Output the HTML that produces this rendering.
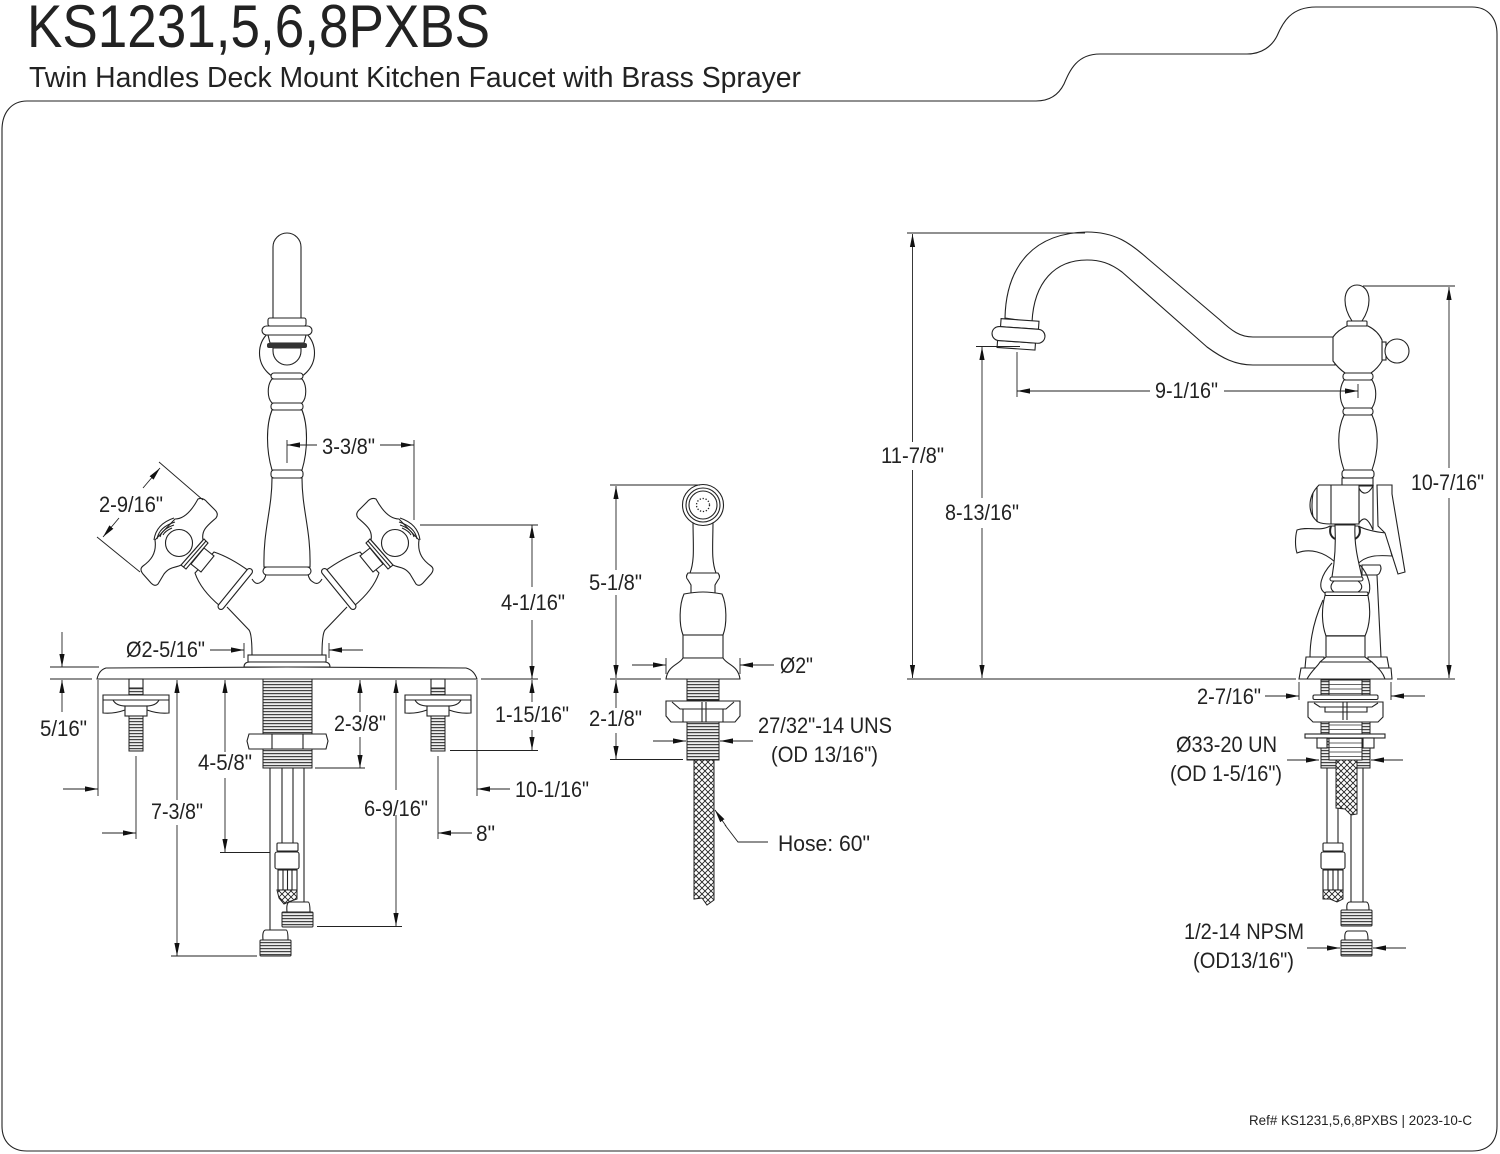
<!DOCTYPE html>
<html><head><meta charset="utf-8"><style>
html,body{margin:0;padding:0;background:#fff}
svg{display:block}
.s{fill:#fff;stroke:#222;stroke-width:1.1}
.n{fill:none;stroke:#222;stroke-width:1.1}
.th{fill:url(#th);stroke:#222;stroke-width:1}
.tl{fill:url(#tl);stroke:#222;stroke-width:1}
.d{fill:none;stroke:#222;stroke-width:.9}
.a{fill:none;stroke:#222;stroke-width:.9;marker-end:url(#a)}
text{font-family:"Liberation Sans",sans-serif;fill:#222;font-size:22.5px}
</style></head><body>
<svg width="1500" height="1154" viewBox="0 0 1500 1154" xmlns="http://www.w3.org/2000/svg">
<defs>
<marker id="a" markerUnits="userSpaceOnUse" viewBox="0 0 13 6" refX="13" refY="3" markerWidth="13" markerHeight="6" orient="auto"><path d="M0,.4L13,3L0,5.6Z" fill="#111"/></marker>
<pattern id="th" width="5" height="3" patternUnits="userSpaceOnUse"><rect width="5" height="3" fill="#eee"/><rect width="5" height="1.2" fill="#444"/></pattern>
<pattern id="tl" width="5" height="4.500" patternUnits="userSpaceOnUse"><rect width="5" height="4.500" fill="#fff"/><rect width="5" height="1" fill="#666"/></pattern>
<pattern id="hx" width="6" height="6" patternUnits="userSpaceOnUse"><rect width="6" height="6" fill="#fff"/><path d="M0,0L6,6M6,0L0,6" stroke="#222" stroke-width=".9"/></pattern>
<g id="h">
<path class="s" d="M214,552C226,556 238,563 249,571L220,606C208,596 199,585 195,573Z"/>
<path class="s" d="M204,548L214,556L201,572L191,564Z"/>
<path class="n" style="stroke-width:7;stroke-linecap:round" d="M249.500,571.500L221,606.500"/>
<path style="fill:none;stroke:#fff;stroke-width:4.800;stroke-linecap:round" d="M249.500,571.500L221,606.500"/>
<path class="s" d="M204,539L208,543L186,569L181,565Z"/>
<path class="n" d="M206,541L183.500,567"/>
<path class="s" d="M198,499Q203,497 207,502L215,510Q219,514 216,518C208,525 201,530 203,540L181,565C176,568 170,566 164,574L158,584Q155,587 151,583L143,574Q139,569 143,566C150,561 157,554 155,540L175,519C183,519 191,512 198,499Z"/>
<path class="n" d="M154,540Q156,524 174,518"/>
<path class="n" d="M157,539Q159,527 175,522M160,537Q162,529 174,525M163,535Q165,531 172,528"/>
<circle class="s" cx="179" cy="543" r="13.500"/>
</g>
<g id="w">
<rect class="s" x="-7" y="0" width="14" height="16"/>
<rect class="th" x="-7" y="9" width="14" height="7"/>
<path class="s" d="M-33,16H33V34Q22,35 11,31H-11Q-22,35 -33,34Z"/>
<path class="n" d="M-33,21H33M-23,21Q-20,27 -10,27H10Q20,27 23,21"/>
<rect class="s" x="-11" y="27" width="22" height="10"/>
<rect class="th" x="-7" y="37" width="14" height="35"/>
</g>
</defs>

<!-- frame -->
<path class="n" d="M2,130C2,112 12,101 27,101H1036C1050,101 1059,94 1064,84C1070,70 1077,54 1100,54H1247C1262,54 1272,46 1277,36C1283,22 1291,7 1316,7H1472C1488,7 1497,18 1497,34V1126C1497,1142 1488,1151 1472,1151H27C12,1151 2,1142 2,1126Z"/>

<text x="27" y="47" style="font-size:60px" textLength="463" lengthAdjust="spacingAndGlyphs">KS1231,5,6,8PXBS</text>
<text x="29" y="87" style="font-size:29px" textLength="772" lengthAdjust="spacingAndGlyphs">Twin Handles Deck Mount Kitchen Faucet with Brass Sprayer</text>
<text x="1249" y="1125" style="font-size:14px" textLength="223" lengthAdjust="spacingAndGlyphs">Ref# KS1231,5,6,8PXBS | 2023-10-C</text>

<!-- LEFT FAUCET -->
<path class="n" d="M227,607L249,630Q252,634 252,655M347,607L325,630Q322,634 322,655M252,579Q256,586 261,582Q265,580 266,574M322,579Q318,586 313,582Q309,580 308,574"/>
<rect class="s" x="248" y="655" width="78" height="7"/>
<path class="s" d="M244,667Q244,662 250,662H324Q330,662 330,667Z"/>
<path class="s" d="M97,679Q99,670 106,668L287,667L466,668Q474,670 477,679Z"/>
<use href="#h"/>
<use href="#h" transform="translate(574,0) scale(-1,1)"/>
<path class="s" d="M273,318V247A14,14 0 0 1 301,247V318Z"/>
<circle class="s" cx="287" cy="353" r="27.500"/>
<rect class="s" x="268" y="318" width="38" height="8" rx="2"/>
<rect class="s" x="262" y="326" width="50" height="9" rx="4.500"/>
<path class="s" d="M268,335H306L304,343H270Z"/>
<path class="s" d="M273,348V351A14,14 0 0 0 301,351V348Z"/>
<rect x="267" y="343" width="40" height="5" rx="2" fill="#333"/>
<rect class="s" x="271" y="373" width="32" height="6" rx="3"/>
<path class="s" d="M272,379C267,385 267,398 272,403H302C307,398 307,385 302,379Z"/>
<rect class="s" x="271" y="403" width="32" height="7" rx="3"/>
<path class="s" d="M272,410C266,425 266,450 272,470H302C308,450 308,425 302,410Z"/>
<rect class="s" x="271" y="470" width="32" height="8" rx="3"/>
<path class="s" d="M272,478C272,510 263,530 264,567H310C311,530 302,510 302,478Z"/>
<rect class="s" x="263" y="567" width="48" height="8" rx="4"/>

<!-- left underside -->
<rect class="th" x="263" y="679" width="49" height="89"/>
<path class="s" d="M249,734H326L328,741L326,749H249L247,741Z"/>
<path class="n" d="M272,734V749M303,734V749"/>
<use href="#w" x="136" y="679"/>
<use href="#w" x="438" y="679"/>
<path class="n" d="M270,768V930M282,768V843M293,768V843M304,768V902"/>
<rect class="s" x="277" y="843" width="21" height="8" rx="1"/>
<rect class="s" x="275" y="852" width="24" height="17" rx="2"/>
<rect class="s" x="278" y="870" width="19" height="20"/>
<path class="n" d="M283,870V890M287.500,870V890M292,870V890"/>
<path d="M277,890H297V899L291,901L284,904L279,898Z" fill="url(#hx)" stroke="#222"/>
<path class="s" d="M287,912Q286,902 290,902H308Q310,902 310,912Z"/>
<rect class="th" x="282" y="912" width="31" height="15" rx="1"/>
<path class="s" d="M263,940Q262,930 266,930H286Q288,930 288,940Z"/>
<rect class="th" x="260" y="940" width="31" height="16" rx="1"/>

<!-- left dims -->
<path class="d" d="M287,440V463M414,440V520M420,525H538M481,679H538M450,750.500H538M159,462L203,500M97,537L140,572M244,643V658M329,643V658M50,667H99M50,679H92M98,680V796M477,680V796M136,756V839M438,756V839M171,956H257M220,852.500H270M315,768H365M317,926.500H402"/>
<path class="a" d="M317,445H287"/><path class="a" d="M380,445H414"/>
<path class="a" d="M532,587V525"/><path class="a" d="M532,620V679"/>
<path class="a" d="M532,702V680"/><path class="a" d="M532,730V750"/>
<path class="a" d="M143,488L160,468"/><path class="a" d="M119,518L103,537"/>
<path class="a" d="M210,650H244"/><path class="a" d="M363,650H329"/>
<path class="a" d="M62,632V667"/><path class="a" d="M62,712V680"/>
<path class="a" d="M63,789H98"/><path class="a" d="M510,789H477"/>
<path class="a" d="M102,833H136"/><path class="a" d="M472,833H438"/>
<path class="a" d="M177,800V680"/><path class="a" d="M177,825V956"/>
<path class="a" d="M225,752V680"/><path class="a" d="M225,778V852"/>
<path class="a" d="M360,712V680"/><path class="a" d="M360,737V768"/>
<path class="a" d="M396,790V680"/><path class="a" d="M396,815V926"/>

<text x="99" y="512" textLength="64" lengthAdjust="spacingAndGlyphs">2-9/16"</text>
<text x="322" y="454" textLength="53" lengthAdjust="spacingAndGlyphs">3-3/8"</text>
<text x="501" y="610" textLength="64" lengthAdjust="spacingAndGlyphs">4-1/16"</text>
<text x="126" y="657" textLength="79" lengthAdjust="spacingAndGlyphs">Ø2-5/16"</text>
<text x="40" y="736" textLength="47" lengthAdjust="spacingAndGlyphs">5/16"</text>
<text x="495" y="722" textLength="74" lengthAdjust="spacingAndGlyphs">1-15/16"</text>
<text x="334" y="731" textLength="52" lengthAdjust="spacingAndGlyphs">2-3/8"</text>
<text x="198" y="770" textLength="54" lengthAdjust="spacingAndGlyphs">4-5/8"</text>
<text x="515" y="797" textLength="74" lengthAdjust="spacingAndGlyphs">10-1/16"</text>
<text x="151" y="819" textLength="52" lengthAdjust="spacingAndGlyphs">7-3/8"</text>
<text x="364" y="816" textLength="64" lengthAdjust="spacingAndGlyphs">6-9/16"</text>
<text x="476" y="841" textLength="19" lengthAdjust="spacingAndGlyphs">8"</text>

<!-- SPRAYER -->
<path class="s" d="M693,520C693,545 695,560 690,573H716C711,560 713,545 713,520Z"/>
<circle class="s" cx="703" cy="505" r="20.500"/>
<circle class="n" cx="703" cy="505" r="17"/>
<circle class="n" cx="703" cy="505" r="14"/>
<circle cx="703" cy="505" r="6.500" fill="none" stroke="#222" stroke-width="1.300" stroke-dasharray="1.300 1.700"/>
<path class="s" d="M688,573H718Q721,577 718,580L715,585V593H691V585L688,580Q685,577 688,573Z"/>
<path class="s" d="M684,594Q695,592 703,592Q711,592 722,594C727,605 727,625 723,635H683C679,625 679,605 684,594Z"/>
<rect class="s" x="683" y="635" width="40" height="23"/>
<path class="s" d="M683,658H723C727,665 738,665 740,679H666C668,665 679,665 683,658Z"/>
<rect class="th" x="687" y="679" width="32" height="21"/>
<path class="s" d="M666,701H740V716L735,722H671L666,716Z"/>
<path class="n" d="M672,702L680,709H726L734,702M683,709V722M723,709V722M702,702V722M706,702V722"/>
<path d="M694,760H714V900L707,905L702,898L694,899Z" fill="url(#hx)" stroke="#222"/>
<rect class="th" x="687" y="722" width="32" height="38"/>
<path class="d" d="M610,485H700M610,679H661M610,759.500H683M666,658V674M740,658V674"/>
<path class="a" d="M616,570V486"/><path class="a" d="M616,595V678"/>
<path class="a" d="M616,708V680"/><path class="a" d="M616,733V759"/>
<path class="a" d="M632,665H666"/><path class="a" d="M774,665H740"/>
<path class="a" d="M653,741H686"/><path class="a" d="M753,741H720"/>
<path class="d" d="M768,842H738L725,825"/><path class="a" d="M726,826L715,810"/>
<text x="589" y="590" textLength="53" lengthAdjust="spacingAndGlyphs">5-1/8"</text>
<text x="780" y="673" textLength="33" lengthAdjust="spacingAndGlyphs">Ø2"</text>
<text x="589" y="726" textLength="53" lengthAdjust="spacingAndGlyphs">2-1/8"</text>
<text x="758" y="733" textLength="134" lengthAdjust="spacingAndGlyphs">27/32"-14 UNS</text>
<text x="771" y="762" textLength="107" lengthAdjust="spacingAndGlyphs">(OD 13/16")</text>
<text x="778" y="851" textLength="92" lengthAdjust="spacingAndGlyphs">Hose: 60"</text>

<!-- RIGHT FAUCET -->
<path class="s" d="M1005,318C1006,270 1030,233 1087,232C1115,232 1130,243 1147,258L1220,320C1232,331 1240,337 1253,337H1335V365H1253C1235,365 1222,358 1207,347L1122,272C1110,263 1100,260 1087,260C1055,260 1034,282 1032,322Z"/>
<g transform="rotate(4 1020 335)">
<rect class="s" x="1000" y="320" width="38" height="8"/>
<rect class="s" x="998" y="342" width="38" height="7"/>
<rect class="s" x="992" y="328" width="53" height="14" rx="7"/>
</g>
<rect class="s" x="1382" y="342" width="4" height="18"/>
<circle class="s" cx="1397" cy="351" r="12"/>
<path class="s" d="M1352,321C1346,312 1345,305 1345,300C1345,291 1350,285 1357,285C1364,285 1369,291 1369,300C1369,305 1368,312 1362,321Z"/>
<rect class="s" x="1347" y="321" width="20" height="5" rx="1"/>
<path class="s" d="M1347,326H1368Q1378,331 1382,340V361Q1378,368 1371,373H1345Q1338,368 1333,361V337Q1338,330 1347,326Z"/>
<rect class="s" x="1343" y="373" width="30" height="7" rx="3"/>
<path class="s" d="M1344,380C1339,388 1339,400 1344,408H1372C1377,400 1377,388 1372,380Z"/>
<rect class="s" x="1343" y="408" width="30" height="7" rx="3"/>
<path class="s" d="M1344,415C1337,430 1337,450 1344,470H1372C1379,450 1379,430 1372,415Z"/>
<rect class="s" x="1342" y="470" width="32" height="8" rx="3"/>
<rect class="s" x="1342" y="478" width="31" height="8"/>
<!-- behind hoses -->
<path class="n" d="M1377,575L1381,657M1323,600C1314,620 1310,640 1310,657"/>
<path class="s" d="M1362,565H1380Q1382,568 1380,572Q1379,575 1376,575H1362Z"/>
<!-- cross -->
<path class="s" d="M1297,530C1295,537 1295,547 1297,553C1310,548 1324,552 1335,562L1357,565C1365,555 1378,555 1392,556L1386,533C1376,532 1366,530 1358,526H1330C1320,532 1308,526 1297,530Z"/>
<path class="n" style="stroke-width:2" d="M1331,526Q1328,535 1335,539M1359,526Q1362,535 1355,539"/>
<!-- lever -->
<path class="s" d="M1359,485H1373V530C1368,518 1364,516 1359,523Z"/>
<path class="s" d="M1358,486C1362,496 1368,495 1373,486Z"/>
<path class="s" d="M1377,485H1392V494L1405,572L1398,574L1385,533L1378,526Z"/>
<path class="s" d="M1319,485H1359V524H1331Q1322,524 1318,522Q1310,516 1310,505Q1310,494 1319,485Z"/>
<path class="n" d="M1331,485V524M1317,487V522M1313,493Q1311,505 1313,517"/>
<!-- lower column -->
<path class="n" d="M1332,563C1321,575 1317,588 1325,593M1360,565C1369,575 1372,588 1368,595"/>
<path class="s" d="M1335,525H1355C1354,545 1358,560 1362,577H1332C1335,560 1336,545 1335,525Z"/>
<rect class="s" x="1330" y="577" width="33" height="4" rx="2"/>
<path class="s" d="M1334,581C1330,585 1330,589 1334,592H1358C1363,589 1363,585 1358,581Z"/>
<rect class="s" x="1325" y="592" width="43" height="3.500" rx="1.500"/>
<path class="s" d="M1325,595.500C1321,610 1322,625 1326,636H1365C1370,625 1371,610 1368,595.500Z"/>
<path class="n" style="stroke-width:1.500" d="M1326,636H1365"/>
<rect class="s" x="1326" y="636" width="39" height="21"/>
<path class="s" d="M1305,668L1306,657H1324V668ZM1389,668L1387,657H1368V668Z"/>
<path class="s" d="M1299,679L1301,668H1391L1392,679Z"/>
<path class="s" d="M1307,679C1312,670 1318,666 1320,662L1326,657H1365L1372,662C1376,667 1382,670 1385,679Z"/>
<path class="n" d="M1320,662H1372"/>

<!-- right underside -->
<rect class="th" x="1321" y="680" width="49" height="15"/>
<rect class="tl" x="1329" y="680" width="33" height="15"/>
<rect class="s" x="1313" y="695" width="65" height="4.500" rx="1.500"/>
<path class="s" d="M1308,702H1383V717L1378,722H1313L1308,717Z"/>
<path class="n" d="M1314,703L1320,707H1372L1378,703M1325,707V712H1367V707M1343,702V720M1347,702V720"/>
<rect class="th" x="1321" y="722" width="49" height="46"/>
<rect class="tl" x="1329" y="722" width="33" height="38"/>
<rect class="s" x="1305" y="734" width="80" height="4"/>
<rect class="s" x="1317" y="738" width="10" height="10"/>
<rect class="s" x="1363" y="738" width="11" height="10"/>
<path class="n" d="M1327,768V843M1338,768V843M1351,768V902M1363,768V902"/>
<path d="M1336,760H1357V814L1351,815L1345,809L1336,808Z" fill="url(#hx)" stroke="#222"/>
<rect class="s" x="1323" y="843" width="20" height="8" rx="1"/>
<rect class="s" x="1321" y="852" width="24" height="17" rx="2"/>
<rect class="s" x="1323" y="870" width="20" height="20"/>
<path class="n" d="M1328,870V890M1333,870V890M1338,870V890"/>
<path d="M1323,890H1343V899L1337,902L1330,899L1323,899Z" fill="url(#hx)" stroke="#222"/>
<path class="s" d="M1347,910Q1346,902 1350,902H1366Q1369,902 1369,910Z"/>
<rect class="th" x="1341" y="910" width="31" height="16" rx="1"/>
<path class="s" d="M1345,940Q1344,931 1348,931H1365Q1368,931 1368,940Z"/>
<rect class="th" x="1341" y="940" width="31" height="16" rx="1"/>

<!-- right dims -->
<path class="d" d="M907,233H1085M907,679H1296M976,346.500H1020M1017,352V397M1358,384V398M1363,286H1455M1397,679H1455M1299,682V700M1391,682V700"/>
<path class="a" d="M912.500,442V234"/><path class="a" d="M912.500,470V678"/>
<path class="a" d="M982,498V347"/><path class="a" d="M982,528V678"/>
<path class="a" d="M1150,391H1017"/><path class="a" d="M1224,391H1358"/>
<path class="a" d="M1449,468V287"/><path class="a" d="M1449,498V678"/>
<path class="a" d="M1265,696H1299"/><path class="a" d="M1425,696H1391"/>
<path class="a" d="M1287,760H1319"/><path class="a" d="M1403,760H1371"/>
<path class="a" d="M1307,948H1340"/><path class="a" d="M1406,948H1373"/>
<text x="881" y="463" textLength="63" lengthAdjust="spacingAndGlyphs">11-7/8"</text>
<text x="945" y="520" textLength="74" lengthAdjust="spacingAndGlyphs">8-13/16"</text>
<text x="1155" y="398" textLength="63" lengthAdjust="spacingAndGlyphs">9-1/16"</text>
<text x="1411" y="490" textLength="73" lengthAdjust="spacingAndGlyphs">10-7/16"</text>
<text x="1197" y="704" textLength="64" lengthAdjust="spacingAndGlyphs">2-7/16"</text>
<text x="1176" y="752" textLength="101" lengthAdjust="spacingAndGlyphs">Ø33-20 UN</text>
<text x="1170" y="781" textLength="112" lengthAdjust="spacingAndGlyphs">(OD 1-5/16")</text>
<text x="1184" y="939" textLength="120" lengthAdjust="spacingAndGlyphs">1/2-14 NPSM</text>
<text x="1193" y="968" textLength="101" lengthAdjust="spacingAndGlyphs">(OD13/16")</text>
</svg>
</body></html>
